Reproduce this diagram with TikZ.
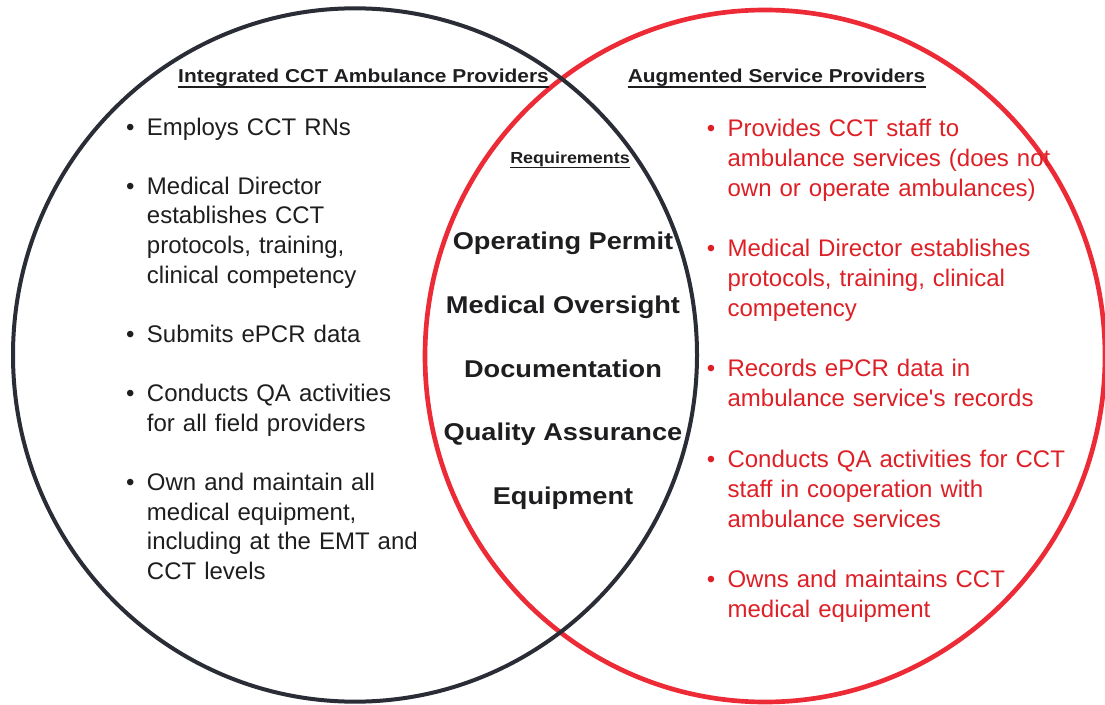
\documentclass[tikz,border=0pt]{standalone}
\usepackage{fontspec}
\setmainfont{Liberation Sans}
\newfontfamily\headfont[FakeStretch=1.12]{Liberation Sans}
\usetikzlibrary{positioning}
\definecolor{ringblack}{RGB}{42,44,54}
\definecolor{ringred}{RGB}{236,43,55}
\definecolor{textred}{RGB}{222,32,38}
\definecolor{textblack}{RGB}{30,30,32}

\begin{document}
\begin{tikzpicture}[
    x=0.75pt, y=-0.75pt,
    node distance=30pt,
    head/.style={font=\headfont\bfseries\fontsize{14}{16}\selectfont, inner sep=0, anchor=base, text=textblack},
    lbullets/.style={font=\fontsize{18}{22.2}\selectfont, inner sep=0, anchor=base west, text width=9cm, align=left, text=textblack},
    rbullets/.style={font=\fontsize{18}{22.5}\selectfont, inner sep=0, anchor=base west, text width=9cm, align=left, text=textred},
    req/.style={font=\headfont\bfseries\fontsize{18.2}{20}\selectfont, inner sep=0, text height=13.5pt, text depth=4pt, text=textblack},
 ]
    \useasboundingbox[fill=white] (0,0) rectangle (1105,705);
    \draw[ringred, line width=3.5pt] (765,356) ellipse [x radius=255pt, y radius=259.5pt];
    \draw[ringblack, line width=3pt] (355,355) ellipse [x radius=256.5pt, y radius=260pt];

    \node[head] (HL) at (363.5,83) {Integrated CCT Ambulance Providers};
    \node[head] (HR) at (776.5,83) {Augmented Service Providers};
    \node[head, font=\headfont\bfseries\fontsize{12}{14}\selectfont] (Q0) at (570,163.5) {Requirements};
    \foreach \n in {HL,HR,Q0}
        \draw[textblack, line width=1.1pt] ([yshift=-3pt]\n.base west) -- ([yshift=-3pt]\n.base east);

    \node[lbullets] (L1) at (146.7,136) {\llap{\textbullet\hspace{9.3pt}}Employs CCT RNs};
    \node[lbullets] (L2) at (146.7,194.3) {\llap{\textbullet\hspace{9.3pt}}Medical Director\\ establishes CCT\\ protocols, training,\\ clinical competency};
    \node[lbullets] (L3) at (146.7,342.5) {\llap{\textbullet\hspace{9.3pt}}Submits ePCR data};
    \node[lbullets] (L4) at (146.7,401.8) {\llap{\textbullet\hspace{9.3pt}}Conducts QA activities\\ for all field providers};
    \node[lbullets] (L5) at (146.7,490.6) {\llap{\textbullet\hspace{9.3pt}}Own and maintain all\\ medical equipment,\\ including at the EMT and\\ CCT levels};

    \node[req, anchor=base] (Q1) at (563,249.3) {Operating Permit};
    \node[req, below=of Q1] (Q2) {Medical Oversight};
    \node[req, below=of Q2] (Q3) {Documentation};
    \node[req, below=of Q3] (Q4) {Quality Assurance};
    \node[req, below=of Q4] (Q5) {Equipment};

    \node[rbullets] (R1) at (727.3,136.5) {\llap{\textbullet\hspace{9.3pt}}Provides CCT staff to\\ ambulance services (does not\\ own or operate ambulances)};
    \node[rbullets] (R2) at (727.3,256.5) {\llap{\textbullet\hspace{9.3pt}}Medical Director establishes\\ protocols, training, clinical\\ competency};
    \node[rbullets] (R3) at (727.3,376.5) {\llap{\textbullet\hspace{9.3pt}}Records ePCR data in\\ ambulance service\textquotesingle s records};
    \node[rbullets] (R4) at (727.3,467) {\llap{\textbullet\hspace{9.3pt}}Conducts QA activities for CCT\\ staff in cooperation with\\ ambulance services};
    \node[rbullets] (R5) at (727.3,587.5) {\llap{\textbullet\hspace{9.3pt}}Owns and maintains CCT\\ medical equipment};
\end{tikzpicture}
\end{document}
